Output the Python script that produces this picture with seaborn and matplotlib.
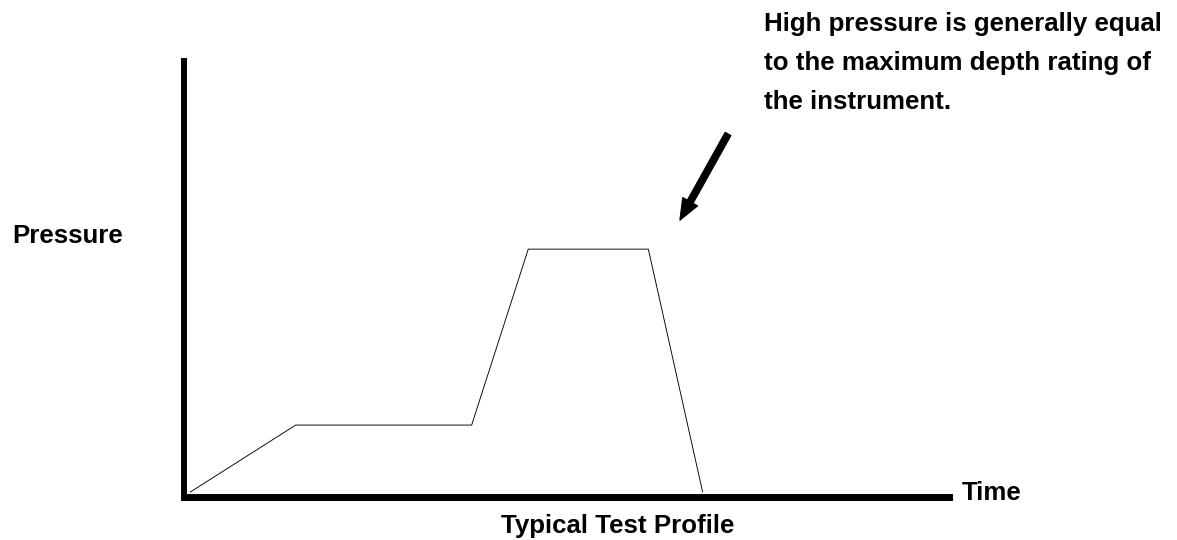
import matplotlib
matplotlib.use('Agg')
import matplotlib.pyplot as plt
import pandas as pd
import seaborn as sns

# Typical pressure test profile (arbitrary units)
time = [0.8, 14.6, 37.6, 45.0, 60.7, 67.8]
pressure = [1.0, 16.4, 16.4, 56.8, 56.8, 1.0]

note_lines = ["High pressure is generally equal",
              "to the maximum depth rating of",
              "the instrument."]
x_label = "Time"
y_label = "Pressure"
title = "Typical Test Profile"

W, H = 1177, 540


def fx(px):
    return px / W


def fy(py):
    return 1 - py / H


sns.set_style("white")
plt.rcParams['font.family'] = ['Liberation Sans', 'DejaVu Sans']
plt.rcParams['font.weight'] = 'bold'
plt.rcParams['font.size'] = 18.6
plt.rcParams['text.color'] = 'black'

df = pd.DataFrame({"time": time, "pressure": pressure})

fig = plt.figure(figsize=(W / 100, H / 100), dpi=100)
x0, x1 = 184, 949
y0, y1 = 496.5, 61
ax = fig.add_axes([fx(x0), fy(y0), fx(x1) - fx(x0), fy(y1) - fy(y0)])

sns.lineplot(data=df, x="time", y="pressure", ax=ax, color="black",
             linewidth=0.65, sort=False)

ax.set_xlim(0, 100)
ax.set_ylim(0, 100)
ax.set_xticks([])
ax.set_yticks([])
ax.set_xlabel("")
ax.set_ylabel("")
for s in ["top", "right"]:
    ax.spines[s].set_visible(False)
ax.spines["left"].set_linewidth(4.3)
ax.spines["bottom"].set_linewidth(5.0)
ax.spines["left"].set_color("black")
ax.spines["bottom"].set_color("black")


# arrow pointing at the high pressure plateau (data coords of this axes)
def dx(px):
    return (px - x0) / (x1 - x0) * 100


def dy(py):
    return (y0 - py) / (y0 - y1) * 100


ax.annotate("", xy=(dx(680), dy(220)), xytext=(dx(728), dy(134)),
            annotation_clip=False,
            arrowprops=dict(facecolor="black", edgecolor="black", width=4.6,
                            headwidth=12, headlength=15, shrink=0))

for i, line in enumerate(note_lines):
    fig.text(fx(764), fy(31 + 39 * i), line, va="baseline", ha="left")

fig.text(fx(12), fy(243), y_label, va="baseline", ha="left")
fig.text(fx(962), fy(500), x_label, va="baseline", ha="left")
fig.text(fx(618), fy(533), title, va="baseline", ha="center")

plt.savefig("out.png", dpi=100)
plt.close()
